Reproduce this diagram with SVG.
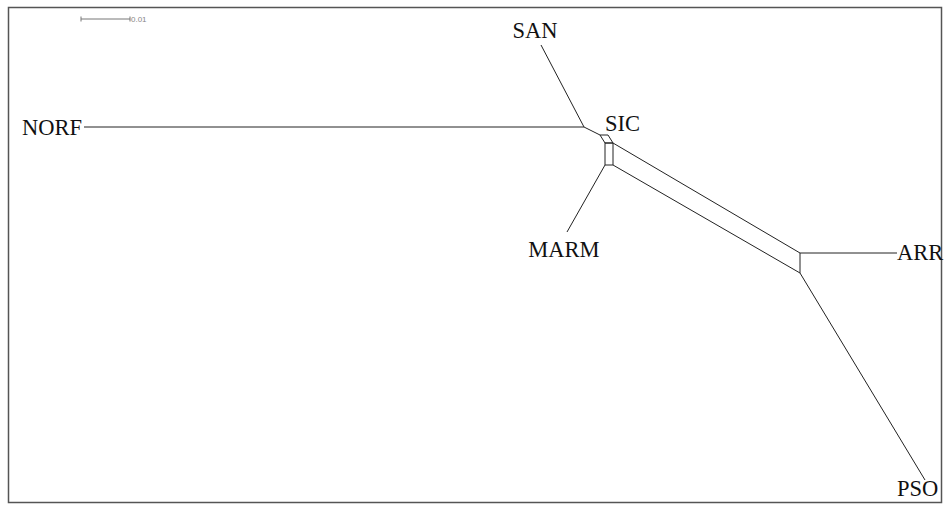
<svg xmlns="http://www.w3.org/2000/svg" width="950" height="510" viewBox="0 0 950 510">
<style>
.e{stroke:#222;stroke-width:1;fill:none}
.lb{font-family:"Liberation Serif",serif;font-size:22.5px;fill:#111}
</style>
<rect x="0" y="0" width="950" height="510" fill="#fff"/>
<rect x="8.5" y="7.5" width="933" height="495" fill="none" stroke="#555" stroke-width="1.5"/>
<g id="scale">
<path d="M81 19H130M81 16.5V21.5M130 16.5V21.5" stroke="#777" stroke-width="1" fill="none"/>
<text x="131" y="22" font-family="Liberation Sans,sans-serif" font-size="8" fill="#888">0.01</text>
</g>
<g id="connectors">
<path class="e" d="M84 127H584"/>
<path class="e" d="M541 45L584 127"/>
<path class="e" d="M584 127L600 135"/>
<path class="e" d="M600 135H608L613 143H605Z"/>
<path class="e" d="M605 143H613V165H605Z"/>
<path class="e" d="M613 143L800 253"/>
<path class="e" d="M613 165L800 273"/>
<path class="e" d="M800 253V273"/>
<path class="e" d="M800 253H897"/>
<path class="e" d="M800 273L925 480"/>
<path class="e" d="M605 165L567 232"/>
</g>
<g id="NORF"><text class="lb" x="82" y="135" text-anchor="end">NORF</text></g>
<g id="SAN"><text class="lb" x="535" y="38" text-anchor="middle">SAN</text></g>
<g id="SIC"><text class="lb" x="605" y="131">SIC</text></g>
<g id="MARM"><text class="lb" x="564" y="257" text-anchor="middle">MARM</text></g>
<g id="ARR"><text class="lb" x="897" y="260">ARR</text></g>
<g id="PSO"><text class="lb" x="897" y="496">PSO</text></g>
</svg>
